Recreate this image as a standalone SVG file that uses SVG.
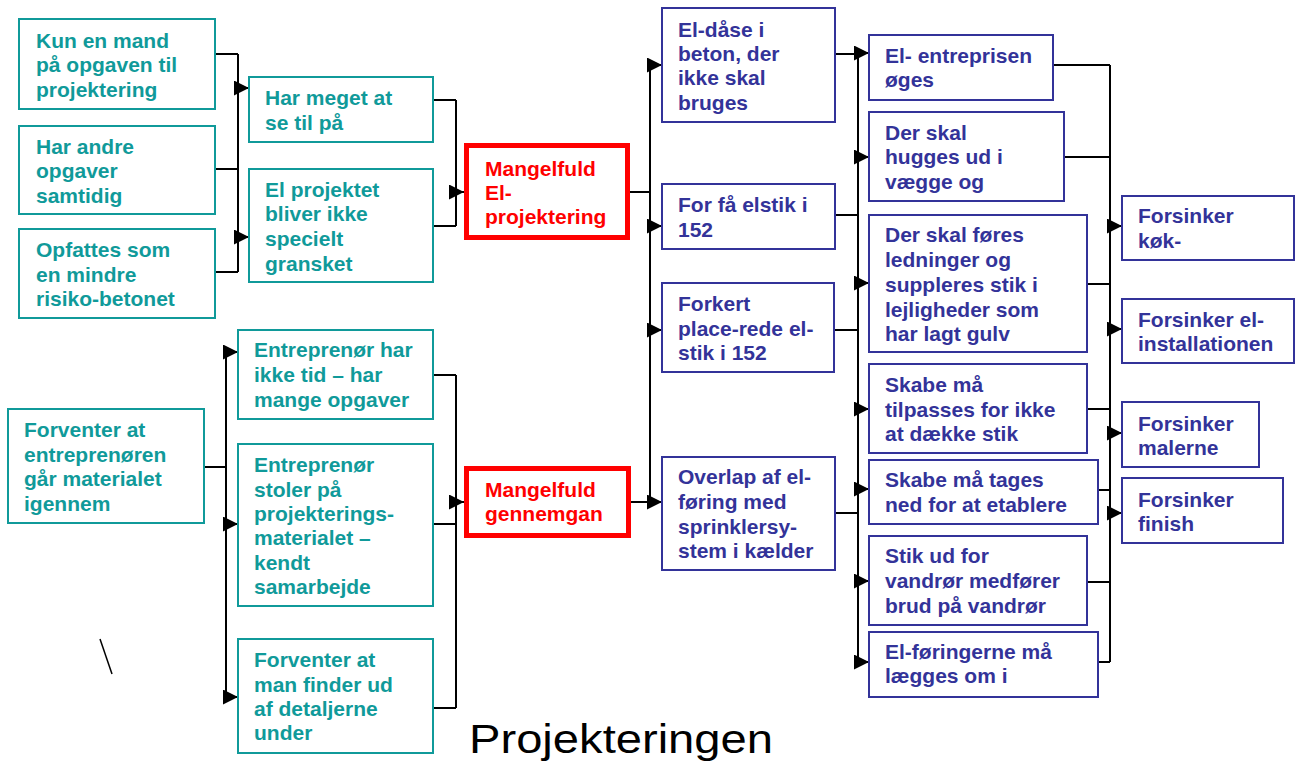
<svg xmlns="http://www.w3.org/2000/svg" width="1298" height="767" viewBox="0 0 1298 767">
<style>
text{font-family:"Liberation Sans",Arial,sans-serif;font-weight:bold;font-size:21px}
.t rect{fill:#fff;stroke:#109a9a;stroke-width:2}
.t text{fill:#109a9a}
.b rect{fill:#fff;stroke:#333399;stroke-width:2}
.b text{fill:#333399}
.r rect{fill:#fff;stroke:#ff0000;stroke-width:5}
.r text{fill:#ff0000}
#connectors path{fill:none;stroke:#000;stroke-width:2}
#connectors path.a{marker-end:url(#arr)}
</style>
<defs>
<marker id="arr" markerUnits="userSpaceOnUse" viewBox="0 0 15 15" markerWidth="15" markerHeight="15" refX="15" refY="7.5" orient="auto">
<path d="M0,0 L15,7.5 L0,15 z" fill="#000"/>
</marker>
</defs>
<rect width="1298" height="767" fill="#fff"/>
<g id="connectors">
<path d="M215,54 H238 M215,169 H238 M215,272 H238 M238,54 V272"/>
<path class="a" d="M236,88 H249"/>
<path class="a" d="M236,237 H249"/>
<path d="M433,100 H456 M433,226 H456 M456,100 V226"/>
<path class="a" d="M454,192 H464"/>
<path d="M630,192 H650 M650,65 V502"/>
<path class="a" d="M648,65 H662"/>
<path class="a" d="M648,226 H662"/>
<path class="a" d="M648,330 H662"/>
<path class="a" d="M631,502 H662"/>
<path d="M835,54 H858 M835,215 H858 M834,330 H858 M835,513 H858 M858,53 V662"/>
<path class="a" d="M856,53 H869"/>
<path class="a" d="M856,157 H869"/>
<path class="a" d="M856,283 H869"/>
<path class="a" d="M856,409 H869"/>
<path class="a" d="M856,489 H869"/>
<path class="a" d="M856,581 H869"/>
<path class="a" d="M856,662 H869"/>
<path d="M1053,65 H1110 M1064,157 H1110 M1087,284 H1110 M1087,409 H1110 M1098,490 H1110 M1087,582 H1110 M1098,662 H1110 M1110,65 V662"/>
<path class="a" d="M1108,226 H1122"/>
<path class="a" d="M1108,329 H1122"/>
<path class="a" d="M1108,433 H1122"/>
<path class="a" d="M1108,513 H1122"/>
<path d="M204,467 H226 M226,352 V697"/>
<path class="a" d="M224,352 H238"/>
<path class="a" d="M224,524 H238"/>
<path class="a" d="M224,697 H238"/>
<path d="M433,375 H456 M433,524 H456 M433,708 H456 M456,375 V708"/>
<path class="a" d="M454,502 H464"/>
</g>
<g id="n1" class="t"><rect x="19" y="19" width="196" height="90"/><text><tspan x="36" y="48">Kun en mand</tspan><tspan x="36" y="72">på opgaven til</tspan><tspan x="36" y="97">projektering</tspan></text></g>
<g id="n2" class="t"><rect x="19" y="126" width="196" height="88"/><text><tspan x="36" y="154">Har andre</tspan><tspan x="36" y="178">opgaver</tspan><tspan x="36" y="203">samtidig</tspan></text></g>
<g id="n3" class="t"><rect x="19" y="229" width="196" height="89"/><text><tspan x="36" y="257">Opfattes som</tspan><tspan x="36" y="282">en mindre</tspan><tspan x="36" y="306">risiko-betonet</tspan></text></g>
<g id="n4" class="t"><rect x="249" y="77" width="184" height="65"/><text><tspan x="265" y="105">Har meget at</tspan><tspan x="265" y="130">se til på</tspan></text></g>
<g id="n5" class="t"><rect x="249" y="169" width="184" height="113"/><text><tspan x="265" y="197">El projektet</tspan><tspan x="265" y="221">bliver ikke</tspan><tspan x="265" y="246">specielt</tspan><tspan x="265" y="271">gransket</tspan></text></g>
<g id="n6" class="t"><rect x="8" y="409" width="196" height="114"/><text><tspan x="24" y="437">Forventer at</tspan><tspan x="24" y="462">entreprenøren</tspan><tspan x="24" y="486">går materialet</tspan><tspan x="24" y="511">igennem</tspan></text></g>
<g id="n7" class="t"><rect x="238" y="330" width="195" height="89"/><text><tspan x="254" y="357">Entreprenør har</tspan><tspan x="254" y="382">ikke tid – har</tspan><tspan x="254" y="407">mange opgaver</tspan></text></g>
<g id="n8" class="t"><rect x="238" y="444" width="195" height="162"/><text><tspan x="254" y="472">Entreprenør</tspan><tspan x="254" y="497">stoler på</tspan><tspan x="254" y="521">projekterings-</tspan><tspan x="254" y="545">materialet –</tspan><tspan x="254" y="570">kendt</tspan><tspan x="254" y="594">samarbejde</tspan></text></g>
<g id="n9" class="t"><rect x="238" y="639" width="195" height="114"/><text><tspan x="254" y="667">Forventer at</tspan><tspan x="254" y="692">man finder ud</tspan><tspan x="254" y="716">af detaljerne</tspan><tspan x="254" y="740">under</tspan></text></g>
<g id="r1" class="r"><rect x="466.5" y="145.5" width="161" height="92"/><text><tspan x="485" y="176">Mangelfuld</tspan><tspan x="485" y="200">El-</tspan><tspan x="485" y="224">projektering</tspan></text></g>
<g id="r2" class="r"><rect x="466.5" y="468.5" width="162" height="67"/><text><tspan x="485" y="497">Mangelfuld</tspan><tspan x="485" y="521">gennemgan</tspan></text></g>
<g id="b1" class="b"><rect x="662" y="8" width="173" height="114"/><text><tspan x="678" y="37">El-dåse i</tspan><tspan x="678" y="61">beton, der</tspan><tspan x="678" y="85">ikke skal</tspan><tspan x="678" y="110">bruges</tspan></text></g>
<g id="b2" class="b"><rect x="662" y="184" width="173" height="65"/><text><tspan x="678" y="212">For få elstik i</tspan><tspan x="678" y="237">152</tspan></text></g>
<g id="b3" class="b"><rect x="662" y="283" width="172" height="89"/><text><tspan x="678" y="311">Forkert</tspan><tspan x="678" y="336">place-rede el-</tspan><tspan x="678" y="360">stik i 152</tspan></text></g>
<g id="b4" class="b"><rect x="662" y="457" width="173" height="113"/><text><tspan x="678" y="484">Overlap af el-</tspan><tspan x="678" y="509">føring med</tspan><tspan x="678" y="534">sprinklersy-</tspan><tspan x="678" y="558">stem i kælder</tspan></text></g>
<g id="c1" class="b"><rect x="869" y="35" width="184" height="65"/><text><tspan x="885" y="63">El- entreprisen</tspan><tspan x="885" y="87">øges</tspan></text></g>
<g id="c2" class="b"><rect x="869" y="112" width="195" height="89"/><text><tspan x="885" y="140">Der skal</tspan><tspan x="885" y="164">hugges ud i</tspan><tspan x="885" y="189">vægge og</tspan></text></g>
<g id="c3" class="b"><rect x="869" y="215" width="218" height="137"/><text><tspan x="885" y="242">Der skal føres</tspan><tspan x="885" y="267">ledninger og</tspan><tspan x="885" y="292">suppleres stik i</tspan><tspan x="885" y="317">lejligheder som</tspan><tspan x="885" y="341">har lagt gulv</tspan></text></g>
<g id="c4" class="b"><rect x="869" y="364" width="218" height="89"/><text><tspan x="885" y="392">Skabe må</tspan><tspan x="885" y="417">tilpasses for ikke</tspan><tspan x="885" y="441">at dække stik</tspan></text></g>
<g id="c5" class="b"><rect x="869" y="460" width="229" height="64"/><text><tspan x="885" y="487">Skabe må tages</tspan><tspan x="885" y="512">ned for at etablere</tspan></text></g>
<g id="c6" class="b"><rect x="869" y="536" width="218" height="89"/><text><tspan x="885" y="563">Stik ud for</tspan><tspan x="885" y="588">vandrør medfører</tspan><tspan x="885" y="613">brud på vandrør</tspan></text></g>
<g id="c7" class="b"><rect x="869" y="632" width="229" height="65"/><text><tspan x="885" y="659">El-føringerne må</tspan><tspan x="885" y="683">lægges om i</tspan></text></g>
<g id="d1" class="b"><rect x="1122" y="196" width="172" height="64"/><text><tspan x="1138" y="223">Forsinker</tspan><tspan x="1138" y="248">køk-</tspan></text></g>
<g id="d2" class="b"><rect x="1122" y="299" width="172" height="64"/><text><tspan x="1138" y="327">Forsinker el-</tspan><tspan x="1138" y="351">installationen</tspan></text></g>
<g id="d3" class="b"><rect x="1122" y="402" width="137" height="65"/><text><tspan x="1138" y="431">Forsinker</tspan><tspan x="1138" y="455">malerne</tspan></text></g>
<g id="d4" class="b"><rect x="1122" y="478" width="161" height="65"/><text><tspan x="1138" y="507">Forsinker</tspan><tspan x="1138" y="531">finish</tspan></text></g>
<path d="M100,639 L112,674" stroke="#000" stroke-width="1.5" fill="none"/>
<text x="469" y="753" style="font-weight:normal;font-size:40px" fill="#000" textLength="304" lengthAdjust="spacingAndGlyphs">Projekteringen</text>
</svg>
